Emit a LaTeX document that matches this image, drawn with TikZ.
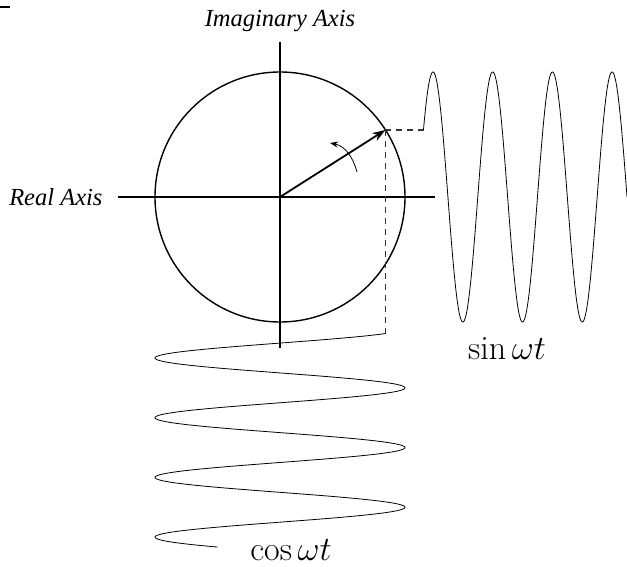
\RequirePackage{fix-cm}
\documentclass[tikz,border=0pt]{standalone}
\usepackage{fontspec}
\newfontfamily\axisfont{Liberation Serif}[ItalicFont={Liberation Serif Italic}]
\usetikzlibrary{arrows.meta}
\begin{document}
\begin{tikzpicture}[x=1pt,y=-1pt,
  axisline/.style={line width=1.7pt},
  circ/.style={line width=1.4pt},
  wave/.style={line width=0.8pt},
  guide/.style={line width=1.4pt, dash pattern=on 6pt off 5pt, black!80},
  vec/.style={line width=1.8pt,-{Stealth[length=13pt,width=9pt]}},
  rot/.style={line width=0.8pt,-{Stealth[length=8pt,width=6pt,inset=2.5pt]}},
  lbl/.style={font=\axisfont\itshape\fontsize{24.5}{28}\selectfont},
  fn/.style={font=\fontsize{34}{40}\selectfont, inner sep=0pt}]
\useasboundingbox (0,0) rectangle (627,567);
% stray mark
\draw[line width=1.5pt] (0,7) -- (10,7);
\coordinate (O) at (280,197);
\coordinate (P) at (385.4,130);
\coordinate (xl) at (118,197);
\coordinate (xr) at (435,197);
\coordinate (yt) at (280,42);
\coordinate (yb) at (280,348);
\coordinate (sinstart) at (423.5,130);
\coordinate (cosstart) at (385.4,333.5);
\coordinate (r1) at (357,172);
\coordinate (r2) at (330,143);
% labels
\node[lbl] (imag) at (280,21) {Imaginary Axis};
\node[lbl, anchor=east] (real) at (106,197) {Real Axis};
\node[fn, anchor=base] (sinlbl) at (507,359) {$\sin\omega t$};
\node[fn, anchor=base] (coslbl) at (291,560) {$\cos\omega t$};
% axes and circle
\draw[axisline] (xl) -- (xr);
\draw[axisline] (yt) -- (yb);
\draw[circ] (O) circle[radius=125];
% projections
\draw[guide] (P) -- (sinstart);
\draw[guide] (P) -- (cosstart);
% phasor
\draw[vec] (O) -- (P);
\draw[rot] (r1) .. controls (353,157) and (345,146) .. (r2);
% waves
\draw[wave] plot[domain=32.5:1260, samples=500, variable=\t] ({433+(\t-90)/360*59.7},{197-125*sin(\t)});
\draw[wave] plot[domain=32.5:1320, samples=500, variable=\t] ({280+125*cos(\t)},{358+(\t-180)/360*59.7});
\end{tikzpicture}
\end{document}
